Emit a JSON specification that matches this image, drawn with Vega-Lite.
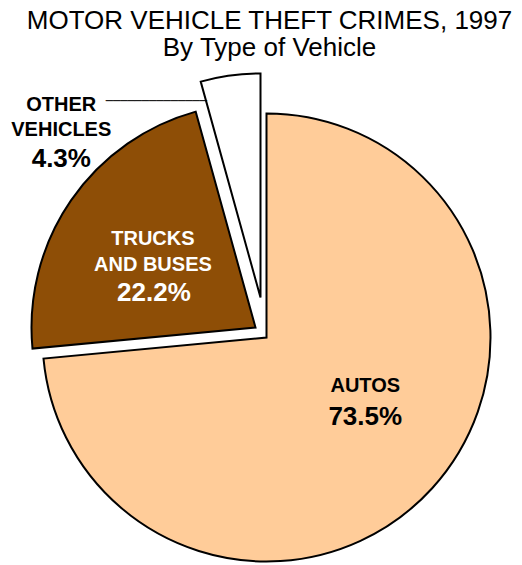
{
  "$schema": "https://vega.github.io/schema/vega-lite/v6.json",
  "width": 511,
  "height": 455,
  "autosize": {"type": "none"},
  "padding": {"left": 11, "top": 110, "right": 0, "bottom": 0},
  "background": "white",
  "config": {"view": {"stroke": null}, "font": "Liberation Sans"},
  "title": {
    "text": ["MOTOR VEHICLE THEFT CRIMES, 1997", "By Type of Vehicle"],
    "fontSize": 26,
    "fontWeight": "normal",
    "font": "Liberation Sans",
    "color": "black",
    "lineHeight": 27,
    "anchor": "middle",
    "offset": 9,
    "dx": 3
  },
  "data": {
    "values": [
      {"type": "AUTOS", "label": "AUTOS", "share": 0.735, "rank": 1},
      {"type": "TRUCKS AND BUSES", "label": "TRUCKS\nAND BUSES", "share": 0.222, "rank": 2},
      {"type": "OTHER VEHICLES", "label": "OTHER\nVEHICLES", "share": 0.043, "rank": 3}
    ]
  },
  "encoding": {
    "theta": {"field": "share", "type": "quantitative", "stack": true},
    "detail": {"field": "type", "type": "nominal"},
    "order": {"field": "rank", "type": "quantitative"}
  },
  "layer": [
    {
      "mark": {"type": "arc", "outerRadius": 224, "fill": "#FFCC99", "stroke": "black", "strokeWidth": 2},
      "encoding": {"opacity": {"condition": {"test": "datum.type === 'AUTOS'", "value": 1}, "value": 0}}
    },
    {
      "mark": {"type": "arc", "outerRadius": 224, "fill": "#8E4E06", "stroke": "black", "strokeWidth": 2, "xOffset": -11, "yOffset": -10},
      "encoding": {"opacity": {"condition": {"test": "datum.type === 'TRUCKS AND BUSES'", "value": 1}, "value": 0}}
    },
    {
      "mark": {"type": "arc", "outerRadius": 224, "fill": "white", "stroke": "black", "strokeWidth": 2, "xOffset": -6, "yOffset": -40},
      "encoding": {"opacity": {"condition": {"test": "datum.type === 'OTHER VEHICLES'", "value": 1}, "value": 0}}
    },
    {
      "mark": {"type": "text", "radius": 120, "dx": 10, "dy": -32, "fontSize": 20, "fontWeight": "bold", "color": "black", "lineBreak": "\n", "lineHeight": 26, "baseline": "middle", "align": "center"},
      "encoding": {
        "text": {"field": "label"},
        "opacity": {"condition": {"test": "datum.type === 'AUTOS'", "value": 1}, "value": 0}
      }
    },
    {
      "mark": {"type": "text", "radius": 120, "dx": 10, "dy": -1, "fontSize": 26, "fontWeight": "bold", "color": "black", "baseline": "middle", "align": "center"},
      "encoding": {
        "text": {"field": "share", "format": ".1%"},
        "opacity": {"condition": {"test": "datum.type === 'AUTOS'", "value": 1}, "value": 0}
      }
    },
    {
      "mark": {"type": "text", "radius": 110, "dx": -23, "dy": -36, "fontSize": 20, "fontWeight": "bold", "color": "white", "lineBreak": "\n", "lineHeight": 26, "baseline": "middle", "align": "center"},
      "encoding": {
        "text": {"field": "label"},
        "opacity": {"condition": {"test": "datum.type === 'TRUCKS AND BUSES'", "value": 1}, "value": 0}
      }
    },
    {
      "mark": {"type": "text", "radius": 110, "dx": -22, "dy": 18, "fontSize": 26, "fontWeight": "bold", "color": "white", "baseline": "middle", "align": "center"},
      "encoding": {
        "text": {"field": "share", "format": ".1%"},
        "opacity": {"condition": {"test": "datum.type === 'TRUCKS AND BUSES'", "value": 1}, "value": 0}
      }
    },
    {
      "mark": {"type": "text", "radius": 150, "dx": -185, "dy": -84, "fontSize": 20, "fontWeight": "bold", "color": "black", "lineBreak": "\n", "lineHeight": 25, "baseline": "middle", "align": "center"},
      "encoding": {
        "text": {"field": "label"},
        "opacity": {"condition": {"test": "datum.type === 'OTHER VEHICLES'", "value": 1}, "value": 0}
      }
    },
    {
      "mark": {"type": "text", "radius": 150, "dx": -185, "dy": -30, "fontSize": 26, "fontWeight": "bold", "color": "black", "baseline": "middle", "align": "center"},
      "encoding": {
        "text": {"field": "share", "format": ".1%"},
        "opacity": {"condition": {"test": "datum.type === 'OTHER VEHICLES'", "value": 1}, "value": 0}
      }
    },
    {
      "mark": {"type": "text", "radius": 150, "dx": -90, "dy": -88, "text": "──────────────", "font": "DejaVu Sans Mono", "fontSize": 12, "color": "black", "baseline": "middle", "align": "center"},
      "encoding": {
        "opacity": {"condition": {"test": "datum.type === 'OTHER VEHICLES'", "value": 1}, "value": 0}
      }
    }
  ]
}
